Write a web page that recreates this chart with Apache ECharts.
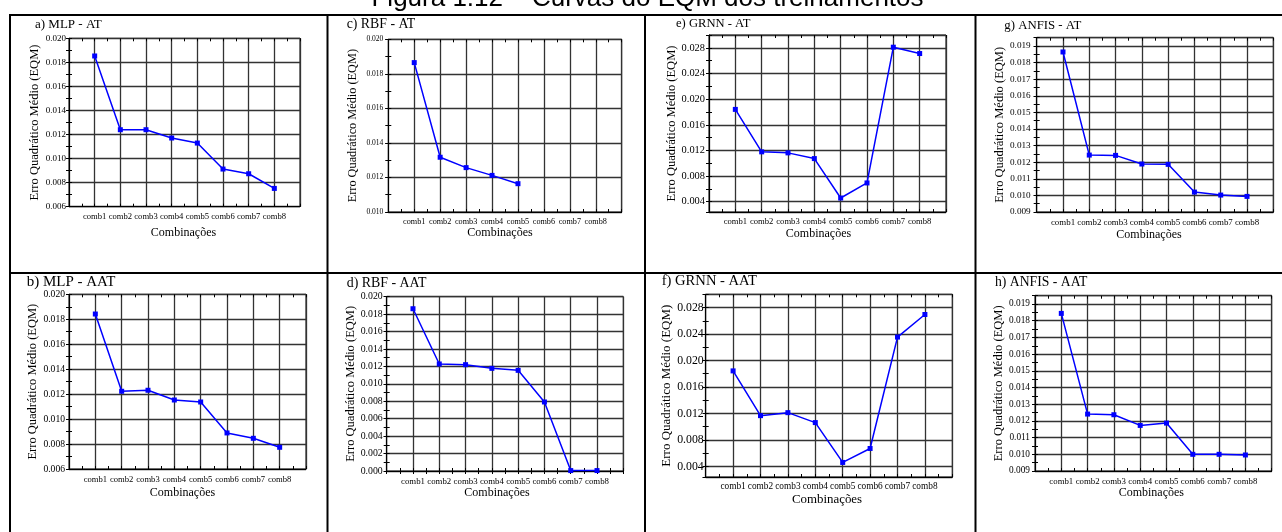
<!DOCTYPE html>
<html>
<head>
<meta charset="utf-8">
<script src="https://cdn.jsdelivr.net/npm/echarts@6/dist/echarts.min.js"></script>
<style>
html,body{margin:0;padding:0;background:#fff;}
#chart{width:1282px;height:532px;}
</style>
</head>
<body>
<div id="chart"></div>
<script>
// ---- data ----
const figureTitle = 'Figura 1.12 – Curvas do EQM dos treinamentos';
const categories = ['comb1', 'comb2', 'comb3', 'comb4', 'comb5', 'comb6', 'comb7', 'comb8'];
const panelTitles = ['a) MLP - AT', 'c) RBF - AT', 'e) GRNN - AT', 'g) ANFIS - AT',
                     'b) MLP - AAT', 'd) RBF - AAT', 'f) GRNN - AAT', 'h) ANFIS - AAT'];
const yAxisName = 'Erro Quadrático Médio (EQM)';
const xAxisName = 'Combinações';
const mlpAT    = [0.01853, 0.01240, 0.01240, 0.01171, 0.01129, 0.00913, 0.00874, 0.00752];
const rbfAT    = [0.01865, 0.01317, 0.01257, 0.01212, 0.01164];
const grnnAT   = [0.01840, 0.01178, 0.01162, 0.01073, 0.00458, 0.00693, 0.02810, 0.02711];
const anfisAT  = [0.01864, 0.01243, 0.01241, 0.01189, 0.01187, 0.01020, 0.01002, 0.00994];
const mlpAAT   = [0.01842, 0.01223, 0.01231, 0.01153, 0.01137, 0.00889, 0.00846, 0.00774];
const rbfAAT   = [0.01862, 0.01228, 0.01220, 0.01178, 0.01155, 0.00792, 0.00005, 0.00005];
const grnnAAT  = [0.01843, 0.01167, 0.01212, 0.01062, 0.00460, 0.00671, 0.02354, 0.02695];
const anfisAAT = [0.01844, 0.01241, 0.01237, 0.01173, 0.01187, 0.01000, 0.01000, 0.00996];
// y-axis ranges and tick steps for each panel
const yMins  = [0.006, 0.010, 0.0024, 0.009, 0.006, 0.000, 0.0024, 0.009];
const yMaxs  = [0.020, 0.020, 0.0300, 0.0195, 0.020, 0.020, 0.0300, 0.0195];
const ySteps = [0.002, 0.002, 0.004, 0.001, 0.002, 0.002, 0.004, 0.001];
const panelSeries = [mlpAT, rbfAT, grnnAT, anfisAT, mlpAAT, rbfAAT, grnnAAT, anfisAAT];

// ---- layout (positions / sizes only) ----
const layouts = [
  {l:69,    t:38.3,  r:300,    b:206.7, tx:35,    ty:26,    tf:13,   yf:9,    ym:3, xf:8.6, xm:6,   nf:12.5, ng:28,   xnf:12,   xng:20.5, xns:1},
  {l:388.3, t:39.3,  r:621.7,  b:212,   tx:346.7, ty:25.5,  tf:13.8, yf:7.5,  ym:5, xf:8.2, xm:6,   nf:12.3, ng:29.5, xnf:12,   xng:15.3, xns:5},
  {l:709,   t:35,    r:946,    b:212,   tx:676,   ty:25,    tf:12.6, yf:10.4, ym:4, xf:8.6, xm:5.7, nf:12.5, ng:30,   xnf:12,   xng:15.3, xns:9},
  {l:1036.7,t:37.7,  r:1273.3, b:212,   tx:1004.3,ty:26.7,  tf:12.8, yf:9.2,  ym:6, xf:8.9, xm:6.5, nf:12.5, ng:30.5, xnf:12,   xng:15.3, xns:6},
  {l:69,    t:294.3, r:306,    b:469,   tx:26.7,  ty:283.3, tf:15,   yf:9.6,  ym:4, xf:8.6, xm:6.7, nf:12.5, ng:28,   xnf:12,   xng:17.5, xns:5},
  {l:386.7, t:296.7, r:623.3,  b:471,   tx:346.7, ty:285,   tf:13.9, yf:9.8,  ym:4, xf:8.8, xm:6,   nf:12.5, ng:27.2, xnf:12,   xng:14.7, xns:8},
  {l:705.7, t:294.3, r:952.3,  b:477,   tx:661.7, ty:282,   tf:14.6, yf:11.8, ym:2, xf:9.3, xm:5,   nf:13,   ng:31,   xnf:12.9, xng:16.5, xns:2},
  {l:1035,  t:295.7, r:1271.7, b:471,   tx:995,   ty:283.3, tf:13.7, yf:9.3,  ym:5, xf:8.8, xm:6,   nf:12.5, ng:28.8, xnf:12,   xng:15.5, xns:2}
];

const SERIF = '"Liberation Serif", "Times New Roman", serif';
const chart = echarts.init(document.getElementById('chart'), null, {renderer: 'canvas'});
const N = layouts.length;
const grids = [], xAxes = [], yAxes = [], series = [], titles = [];
const tickStyle = {color: '#000', width: 1};

function yScale(i) {
  const step = ySteps[i];
  const o = {type: 'value', gridIndex: i, min: yMins[i], max: yMaxs[i]};
  const niceMin = Math.abs(yMins[i] / step - Math.round(yMins[i] / step)) < 1e-6;
  if (niceMin) { o.interval = step; } else { o.minInterval = step; o.maxInterval = step; }
  return o;
}
function xScale(i) {
  return {type: 'value', gridIndex: i, min: 0, max: categories.length + 1, interval: 1};
}
const hidden = {axisLabel: {show: false}, splitLine: {show: false}};

// main axes (index 0..N-1)
layouts.forEach((L, i) => {
  grids.push({left: L.l, top: L.t, width: L.r - L.l, height: L.b - L.t,
              show: true, borderColor: '#000', borderWidth: 1});
  const step = ySteps[i];
  yAxes.push(Object.assign(yScale(i), {
    position: 'left',
    name: yAxisName, nameLocation: 'middle', nameGap: L.ng, nameRotate: 90,
    nameTextStyle: {fontFamily: SERIF, fontSize: L.nf, color: '#000'},
    axisLine: {show: true, onZero: false, lineStyle: {color: '#000', width: 1}},
    axisTick: {show: true, inside: true, length: 3, lineStyle: tickStyle},
    minorTick: {show: true, splitNumber: 2, length: 3, lineStyle: tickStyle},
    splitLine: {show: true, lineStyle: {color: '#333', width: 1.3}},
    axisLabel: {fontFamily: SERIF, fontSize: L.yf, color: '#000', margin: L.ym,
      formatter: v => (Math.abs(v / step - Math.round(v / step)) > 1e-6 ? '' : v.toFixed(3))}
  }));
  xAxes.push(Object.assign(xScale(i), {
    position: 'bottom',
    name: xAxisName, nameLocation: 'middle', nameGap: L.xng,
    nameTextStyle: {fontFamily: SERIF, fontSize: L.xnf, color: '#000', padding: [0, 2 * L.xns, 0, 0]},
    axisLine: {show: true, onZero: false, lineStyle: {color: '#000', width: 1}},
    axisTick: {show: true, inside: true, length: 3, lineStyle: tickStyle},
    minorTick: {show: true, splitNumber: 2, length: 3, lineStyle: tickStyle},
    splitLine: {show: true, lineStyle: {color: '#333', width: 1.3}},
    axisLabel: {fontFamily: SERIF, fontSize: L.xf, color: '#000', margin: L.xm,
      formatter: v => categories[Math.round(v) - 1] || ''}
  }));
  series.push({
    type: 'line', xAxisIndex: i, yAxisIndex: i,
    data: panelSeries[i].map((v, k) => [k + 1, v]),
    symbol: 'rect', symbolSize: 5, showSymbol: true,
    lineStyle: {color: '#0000ff', width: 1.5},
    itemStyle: {color: '#0000ff'},
    animation: false, silent: true, z: 5
  });
  titles.push({text: panelTitles[i], left: L.tx, top: L.ty - L.tf * 0.6, padding: 0,
               textStyle: {fontFamily: SERIF, fontSize: L.tf, fontWeight: 'normal', color: '#000'}});
});
// frame axes: top / right with inward ticks (index N..2N-1), left outward major ticks (2N..3N-1)
layouts.forEach((L, i) => {
  xAxes.push(Object.assign(xScale(i), hidden, {
    position: 'top', axisLine: {show: false},
    axisTick: {show: true, inside: true, length: 3, lineStyle: tickStyle},
    minorTick: {show: true, splitNumber: 2, length: 3, lineStyle: tickStyle}
  }));
  yAxes.push(Object.assign(yScale(i), hidden, {
    position: 'right', axisLine: {show: false},
    axisTick: {show: true, inside: true, length: 3, lineStyle: tickStyle},
    minorTick: {show: true, splitNumber: 2, length: 3, lineStyle: tickStyle}
  }));
});
layouts.forEach((L, i) => {
  yAxes.push(Object.assign(yScale(i), hidden, {
    position: 'left', offset: 0, axisLine: {show: false},
    axisTick: {show: true, inside: false, length: 3, lineStyle: tickStyle},
    minorTick: {show: false}
  }));
});

const border = {stroke: '#000', lineWidth: 2};
const graphics = [
  {type: 'text', x: 647.5, y: -1, silent: true,
   style: {text: figureTitle, fontFamily: '"Liberation Sans", Arial, sans-serif', fontSize: 26,
           fill: '#000', textAlign: 'center', textVerticalAlign: 'middle'}},
  {type: 'line', shape: {x1: 10, y1: 15, x2: 1282, y2: 15}, style: border, silent: true},
  {type: 'line', shape: {x1: 10, y1: 273, x2: 1282, y2: 273}, style: border, silent: true},
  {type: 'line', shape: {x1: 10, y1: 14, x2: 10, y2: 532}, style: border, silent: true},
  {type: 'line', shape: {x1: 327.5, y1: 14, x2: 327.5, y2: 532}, style: border, silent: true},
  {type: 'line', shape: {x1: 645, y1: 14, x2: 645, y2: 532}, style: border, silent: true},
  {type: 'line', shape: {x1: 975.5, y1: 14, x2: 975.5, y2: 532}, style: border, silent: true}
];

chart.setOption({
  backgroundColor: '#fff',
  animation: false,
  title: titles,
  grid: grids,
  xAxis: xAxes,
  yAxis: yAxes,
  series: series,
  graphic: graphics
});
</script>
</body>
</html>
